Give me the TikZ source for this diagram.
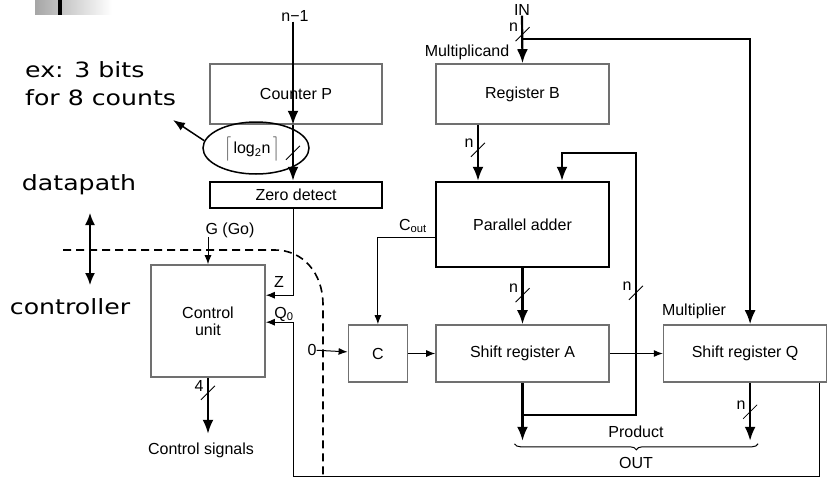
\documentclass[tikz,border=0pt]{standalone}
\usepackage{fontspec}
\setmainfont{Liberation Sans}
\newfontfamily\notefont[FakeStretch=1.2]{DejaVu Sans}
\usetikzlibrary{positioning, calc, arrows.meta, shapes.geometric, decorations.pathreplacing}
\definecolor{mdBorder}{HTML}{707070}
\definecolor{mdBar}{HTML}{A6A6A6}
\tikzset{
    mdBoxBase/.style={
        rectangle,
        draw=mdBorder,
        line width=1.6pt,
        font=\fontsize{16}{17}\selectfont,
        align=center,
        inner sep=0pt
    },
    mdBold/.style={mdBoxBase, draw=black, line width=2.4pt},
    mdLabel/.style={font=\fontsize{16}{17}\selectfont, inner sep=0pt},
    mdNote/.style={font=\notefont\fontsize{21}{28}\selectfont, align=left, inner sep=0pt},
    % Arrows
    mdBus/.style={-{Latex[length=14pt, width=11pt]}, line width=2.2pt},
    mdWire/.style={-{Latex[length=9pt, width=7pt]}, line width=1pt},
    mdTick/.style={line width=0.8pt}
}
\newcommand{\busTick}[2]{%
    \draw[mdTick] ($(#1)+(-7,7)$) -- ($(#1)+(7,-7)$);
    \node[mdLabel] at ($(#1)+(-9,-7)$) {#2};}

\begin{document}
\begin{tikzpicture}[x=1pt, y=-1pt]
    \useasboundingbox (0,0) rectangle (827,477);
    % slide header mark
    \shade[left color=mdBar, right color=white] (35,0) rectangle (112,14);
    \fill[black] (58,0) rectangle (62,15);

    % datapath blocks
    \node[mdBoxBase, minimum width=172pt, minimum height=60pt] (cntP) at (296,94) {Counter P};
    \node[mdBold, minimum width=172pt, minimum height=26pt, below=56pt of cntP] (zero) {Zero detect};
    \node[mdBoxBase, minimum width=173pt, minimum height=60pt] (regB) at (522.5,94) {Register B};
    \node[mdBold, minimum width=173pt, minimum height=85pt, below=56pt of regB] (adder) {Parallel adder};
    \node[mdBoxBase, minimum width=173pt, minimum height=57pt, below=56pt of adder] (shA) {Shift register A};
    \node[mdBoxBase, minimum width=59pt, minimum height=57pt, left=27pt of shA] (cReg) {C};
    \node[mdBoxBase, minimum width=163pt, minimum height=57pt, right=53pt of shA] (shQ) {Shift register Q};
    \node[ellipse, draw, line width=1.5pt, minimum width=106pt, minimum height=52pt] (logE) at (256,148) {};
    \node[mdLabel] (logN) at (252,149) {$\Bigg\lceil$\,log\textsubscript{2}n\,$\Bigg\rceil$};

    % controller block
    \node[mdBoxBase, minimum width=114pt, minimum height=112pt] (ctrl) at (208,321) {Control\\unit};

    % signal labels
    \node[mdLabel] (nMinus) at (295,16) {n−1};
    \node[mdLabel] (inLbl) at (522,10) {IN};
    \node[mdLabel] (zeroIn) at (312,350) {0};
    \node[mdLabel] (cSig) at (201,450) {Control signals};
    \node[mdLabel] at (230,230) {G (Go)};
    \node[mdLabel] at (279,282) {Z};
    \node[mdLabel] at (284,314) {Q\textsubscript{0}};
    \node[mdLabel] at (413,226) {C\textsubscript{out}};
    \node[mdLabel] at (467,52) {Multiplicand};
    \node[mdLabel] at (694,311) {Multiplier};
    \node[mdLabel] at (636,432) {Product};
    \node[mdLabel] at (636,463) {OUT};

    % notes
    \node[mdNote, anchor=west] (exNote) at (25,84) {ex: 3 bits\\for 8 counts};
    \node[mdNote] (dpNote) at (79,185) {datapath};
    \node[mdNote] (ctNote) at (70,307) {controller};

    % tap points
    \coordinate (cntOut) at ($(cntP.south)+(-3,0)$);
    \coordinate (zTap) at ($(zero.south)+(-3,0)$);
    \coordinate (zIn) at ($(ctrl.north east)+(0,31)$);
    \coordinate (qIn) at ($(ctrl.north east)+(0,58)$);
    \coordinate (qTap) at ($(shQ.south east)+(-8,0)$);
    \coordinate (loopBot) at ($(qTap)+(0,94)$);
    \coordinate (goTop) at ($(ctrl.north)+(0,-27)$);
    \coordinate (csTip) at ($(ctrl.south)+(0,56)$);
    \coordinate (inSplit) at ($(regB.north)+(0,-24)$);
    \coordinate (qCol) at ($(shQ.north)+(5,0)$);
    \coordinate (qBot) at (qCol |- shQ.south);
    \coordinate (bOut) at ($(regB.south)+(-44.5,0)$);
    \coordinate (aTap) at ($(shA.south)+(0,32)$);
    \coordinate (outA) at ($(shA.south)+(0,58)$);
    \coordinate (outQ) at (qCol |- outA);
    \coordinate (fbCorner) at ($(adder.north)+(113.5,-28)$);
    \coordinate (adIn) at ($(adder.north)+(39.5,0)$);
    \coordinate (coutTap) at ($(adder.north west)+(0,57)$);

    % counter and controller wiring
    \draw[mdBus] (nMinus.south -| cntOut) -- (cntOut);
    \draw[mdBus] (cntOut) -- (cntOut |- zero.north);
    \draw[mdWire] (zTap) |- (zIn);
    \draw[mdWire] (qTap) -- (loopBot) -- (zTap |- loopBot) |- (qIn);
    \draw[mdWire] (goTop) -- (ctrl.north);
    \draw[mdBus] (ctrl.south) -- (csTip);

    % datapath wiring
    \draw[mdBus] (inLbl.south) -- (regB.north);
    \draw[mdBus] (inSplit) -| (qCol);
    \draw[mdBus] (bOut) -- (bOut |- adder.north);
    \draw[mdBus] (adder) -- (shA);
    \draw[mdBus] (shA.south) -- (outA);
    \draw[mdBus] (aTap) -| (fbCorner) -| (adIn);
    \draw[mdBus] (qBot) -- (outQ);
    \draw[mdWire] (coutTap) -| (cReg.north);
    \draw[mdWire] (zeroIn) -- (cReg);
    \draw[mdWire] (cReg) -- (shA);
    \draw[mdWire] (shA) -- (shQ);

    % bus widths
    \coordinate (tkCnt) at ($(cntOut)+(0,28)$);
    \coordinate (tkCtrl) at ($(ctrl.south)+(0,15)$);
    \coordinate (tkIn) at ($(inSplit)+(0,-5)$);
    \coordinate (tkB) at ($(bOut)+(0,25)$);
    \coordinate (tkA) at ($(adder.south)+(0,27)$);
    \coordinate (tkFb) at ($(fbCorner)+(0,140)$);
    \coordinate (tkQ) at ($(qBot)+(0,29)$);
    \busTick{tkCnt}{}
    \busTick{tkCtrl}{4}
    \busTick{tkIn}{n}
    \busTick{tkB}{n}
    \busTick{tkA}{n}
    \busTick{tkFb}{n}
    \busTick{tkQ}{n}

    % product brace
    \draw[decorate, decoration={brace, mirror, amplitude=6pt}, line width=1pt] ($(outA)+(-8,3)$) -- ($(outQ)+(8,3)$);

    % annotations
    \coordinate (exTip) at (173,120);
    \coordinate (dpTip) at (90,213);
    \coordinate (ctTip) at (90,285);
    \draw[-{Latex[length=12pt, width=9pt]}, line width=1.5pt] (logE.172) -- (exTip);
    \draw[{Latex[length=12pt, width=10pt]}-{Latex[length=12pt, width=10pt]}, line width=1.5pt] (dpTip) -- (ctTip);
    \draw[dashed, dash pattern=on 8pt off 5pt, line width=1.6pt] (63,250) -- (275,250) .. controls (302,250) and (323,272) .. (323,305) -- (323,477);
\end{tikzpicture}
\end{document}
